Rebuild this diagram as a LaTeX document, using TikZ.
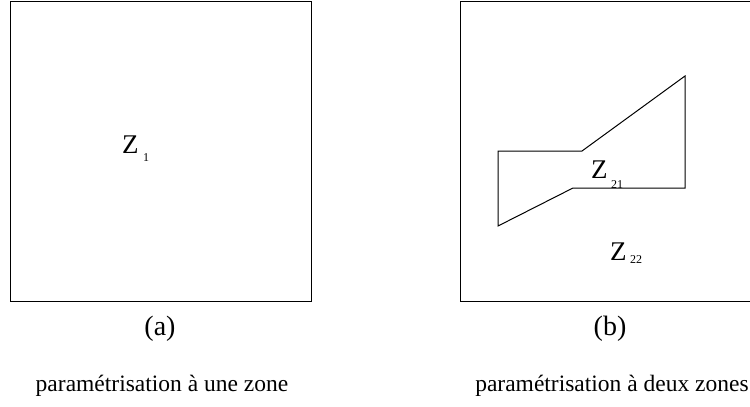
\documentclass[tikz,border=0pt]{standalone}
\usepackage{fontspec}
\setmainfont{Liberation Serif}
\begin{document}
\begin{tikzpicture}[x=1pt,y=-1pt,
  frame/.style={draw=black,line width=1pt},
  zone/.style={draw=black,line width=1pt,line join=miter},
  zlab/.style={inner sep=0pt,anchor=base west,font=\fontsize{27}{31}\selectfont},
  zsub/.style={inner sep=0pt,anchor=base west,font=\fontsize{12}{14}\selectfont},
  tag/.style={inner sep=0pt,anchor=base,font=\fontsize{28}{32}\selectfont},
  caption/.style={inner sep=0pt,anchor=base,font=\fontsize{23.5}{27}\selectfont}]
\useasboundingbox (0,0) rectangle (750,407);
\clip (0,0) rectangle (750,407);
% (a) single zone
\draw[frame] (10,1) rectangle (311,301);
\node[zlab] (z1) at (122,153) {Z};
\node[zsub] (z1s) at (143,161) {1};
\node[tag] (ta) at (160,335) {(a)};
\node[caption] (ca) at (162,391) {paramétrisation à une zone};
% (b) two zones
\draw[frame] (760,1) -- (460,1) -- (460,301) -- (760,301);
\draw[zone] (498,151) -- (582,151) -- (685,76) -- (685,188) -- (573,188) -- (498,226) -- cycle;
\node[zlab] (z21) at (591,178) {Z};
\node[zsub] (z21s) at (611,188) {21};
\node[zlab] (z22) at (610,260) {Z};
\node[zsub] (z22s) at (630,263) {22};
\node[tag] (tb) at (610,335) {(b)};
\node[caption] (cb) at (612,391) {paramétrisation à deux zones};
\end{tikzpicture}
\end{document}
